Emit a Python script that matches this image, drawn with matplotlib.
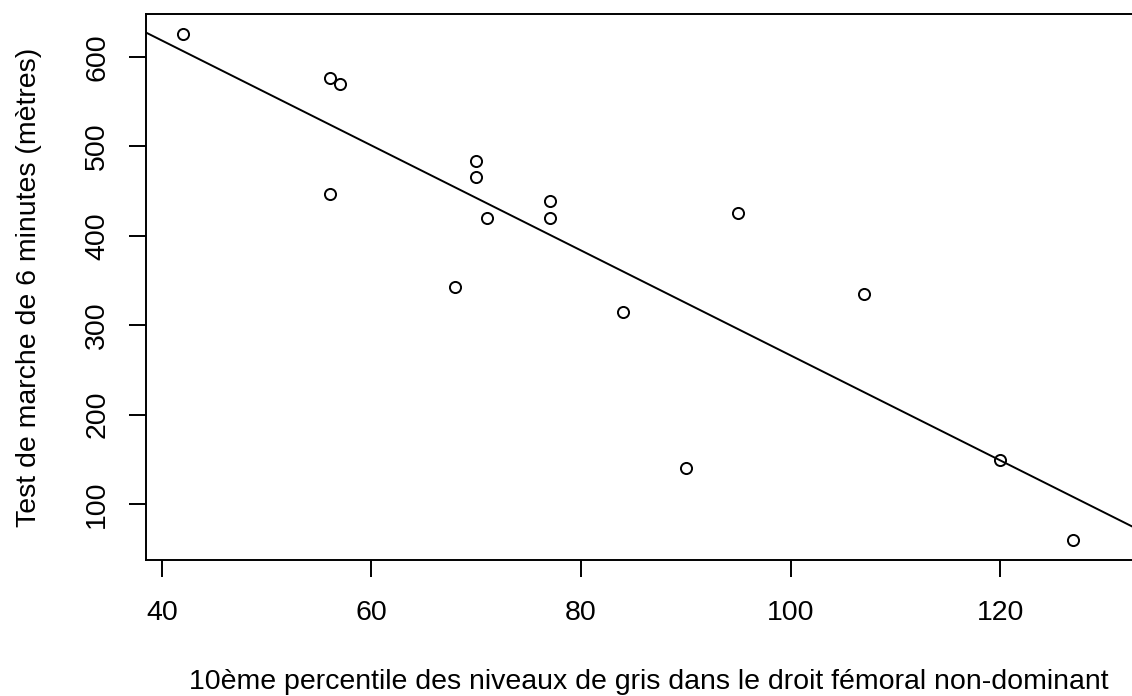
import numpy as np
import matplotlib
matplotlib.use("Agg")
import matplotlib.pyplot as plt

# Grey-level 10th percentile (non-dominant rectus femoris) vs 6-minute walk distance
gris_p10 = [42, 56, 57, 56, 68, 70, 70, 71, 77, 77, 84, 90, 95, 107, 120, 127]
marche_6min = [625, 576, 570, 447, 343, 483, 466, 420, 439, 420, 315, 140, 425, 335, 149, 60]

x_ticks = [40, 60, 80, 100, 120]
y_ticks = [100, 200, 300, 400, 500, 600]

xlabel = "10ème percentile des niveaux de gris dans le droit fémoral non-dominant"
ylabel = "Test de marche de 6 minutes (mètres)"

plt.rcParams["font.family"] = ["Liberation Sans", "DejaVu Sans"]
FS = 20.5

W, H, DPI = 1132, 696, 100
fig = plt.figure(figsize=(W / DPI, H / DPI), dpi=DPI)

# plotting region in pixels; the right side runs past the figure edge
left_px, right_px, top_px, bottom_px = 145.7, 1152, 14.3, 560.3
ax = fig.add_axes([left_px / W, 1 - bottom_px / H,
                   (right_px - left_px) / W, (bottom_px - top_px) / H])

x = np.asarray(gris_p10, dtype=float)
y = np.asarray(marche_6min, dtype=float)

ax.plot(x, y, linestyle="none", marker="o", markersize=8.0,
        markerfacecolor="none", markeredgecolor="black", markeredgewidth=1.4)

# least-squares regression line across the full plotting range
slope, intercept = np.polyfit(x, y, 1)
ax.axline((0, intercept), slope=slope, color="black", linewidth=1.4)

ax.set_xlim(38.45, 134.5)
ax.set_ylim(37.3, 647.4)

ax.set_xticks(x_ticks)
ax.set_yticks(y_ticks)
ax.set_xticklabels([str(v) for v in x_ticks], fontsize=FS)
ax.set_yticklabels([str(v) for v in y_ticks], fontsize=FS, rotation=90, va="center")

ax.tick_params(axis="both", direction="out", length=12.5, width=1.4, color="black")
ax.tick_params(axis="x", pad=16.2)
ax.tick_params(axis="y", pad=13.0)

for side in ["left", "bottom", "top"]:
    ax.spines[side].set_linewidth(1.4)
ax.spines["right"].set_visible(False)

ax.set_xlabel(xlabel, fontsize=FS)
ax.set_ylabel(ylabel, fontsize=FS)
ax.xaxis.set_label_coords(0.5, -(669 - bottom_px) / (bottom_px - top_px))
ax.yaxis.set_label_coords(-(left_px - 42.5) / (right_px - left_px), 0.5)

fig.savefig("out.png", dpi=DPI)
